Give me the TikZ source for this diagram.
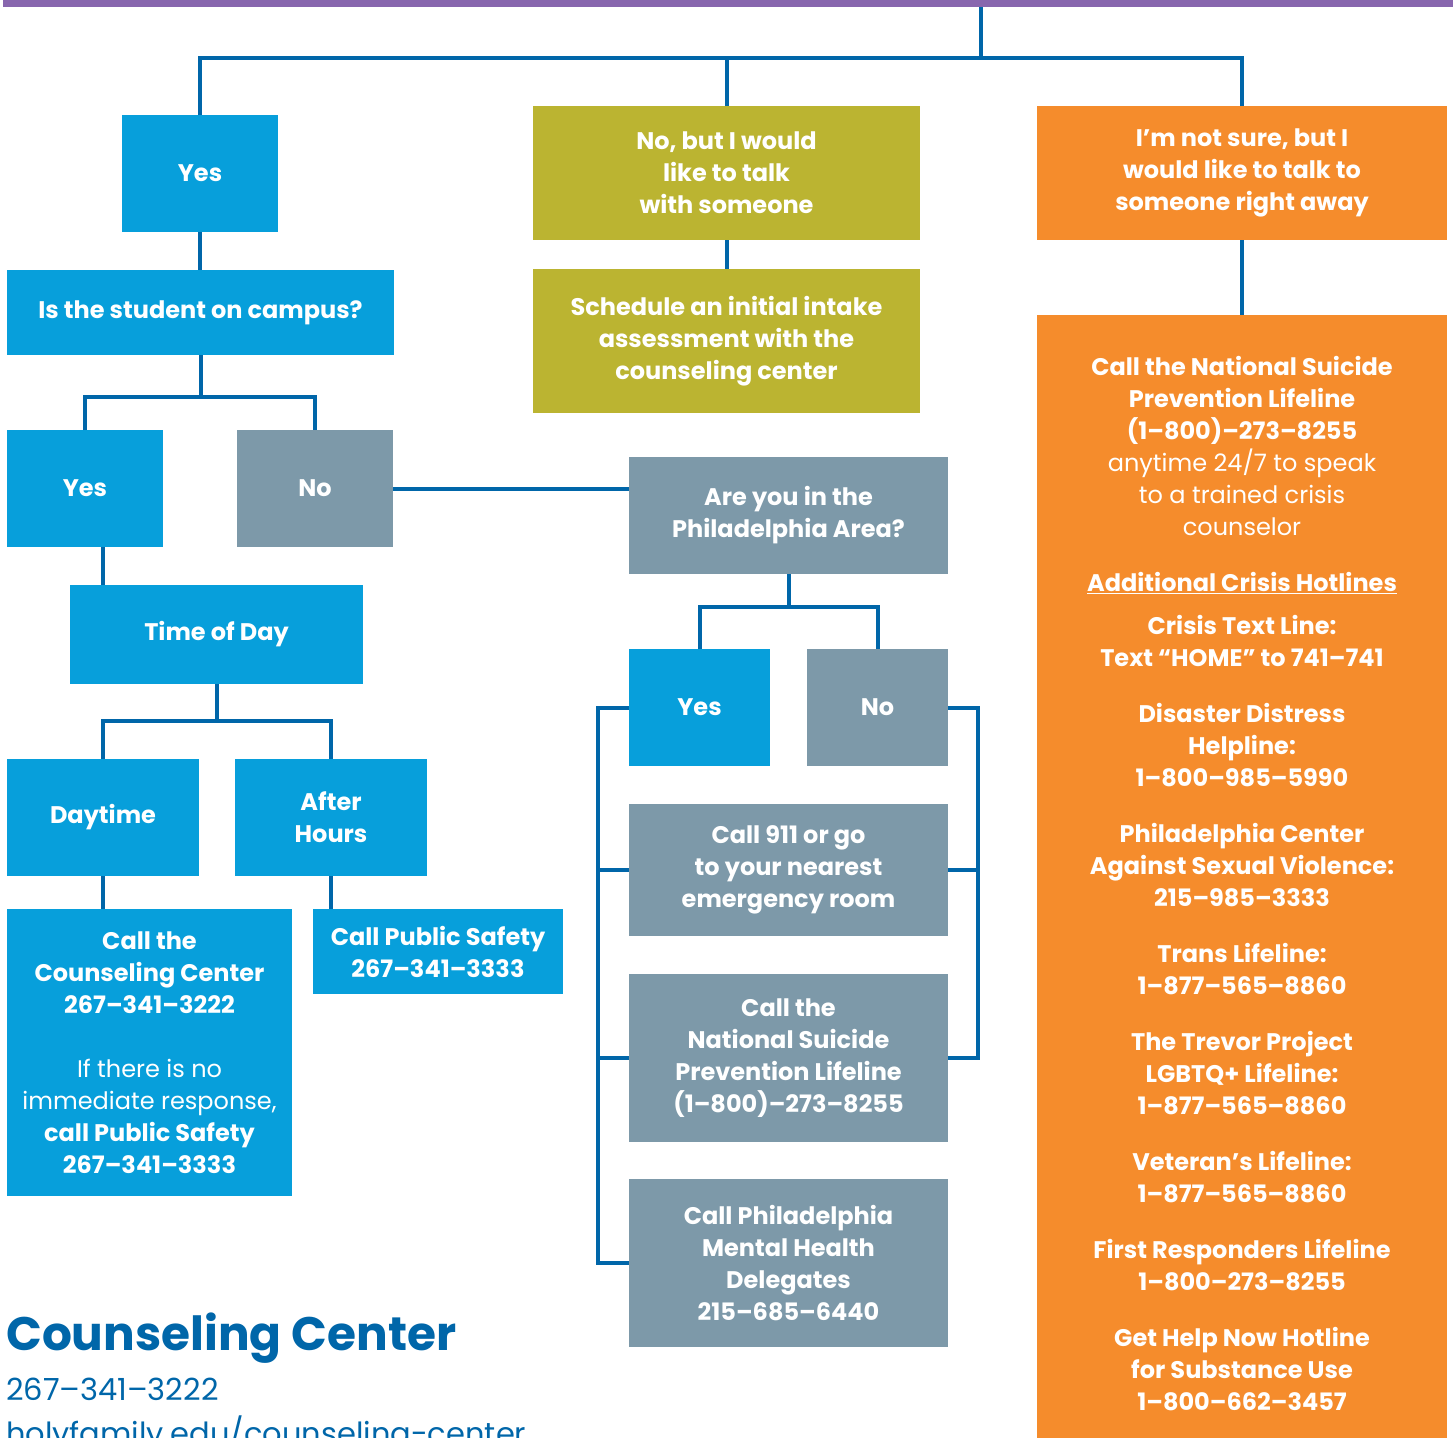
\documentclass[tikz,border=0pt]{standalone}
\usepackage{fontspec}
\setmainfont{Poppins}
\usetikzlibrary{positioning}

\definecolor{hfblue}{HTML}{079FDB}
\definecolor{hfolive}{HTML}{BBB431}
\definecolor{hforange}{HTML}{F58C2C}
\definecolor{hfgray}{HTML}{7D99A9}
\definecolor{hfpurple}{HTML}{8866AE}
\definecolor{linkblue}{HTML}{0066A9}

\tikzset{
    box/.style={fill=#1, text=white, font=\fontsize{24}{32}\selectfont\bfseries,
        align=center, inner sep=0pt, outer sep=0pt, anchor=north west},
    link/.style={draw=linkblue, line width=4pt},
    footer/.style={text=linkblue, anchor=base west, inner sep=0pt},
}

\begin{document}
\begin{tikzpicture}[x=1pt, y=-1pt]
    \useasboundingbox (0,0) rectangle (1453,1437);
    \node[fill=hfpurple, inner sep=0pt, minimum width=1450, minimum height=7, anchor=north west] (bar) at (3,0) {};

    % first row
    \node[box=hfblue, minimum width=156, minimum height=117] (yesA) at (122,115) {Yes};
    \node[box=hfolive, minimum width=387, minimum height=134] (nobut) at (533,106) {No, but I would\\like to talk\\with someone};
    \node[box=hforange, minimum width=410, minimum height=134] (notsure) at (1037,106) {I’m not sure, but I\\would like to talk to\\someone right away};

    % second row
    \node[box=hfblue, minimum width=387, minimum height=85] (campus) at (7,270) {Is the student on campus?};
    \node[box=hfolive, minimum width=387, minimum height=144] (intake) at (533,269) {Schedule an initial intake\\assessment with the\\counseling center};
    \node[box=hforange, minimum width=410, minimum height=1140] (lifeline) at (1037,315) {};

    % on campus?
    \node[box=hfblue, minimum width=156, minimum height=117] (yesB) at (7,430) {Yes};
    \node[box=hfgray, minimum width=156, minimum height=117] (noB) at (237,430) {No};
    \node[box=hfgray, minimum width=319, minimum height=117] (philly) at (629,457) {Are you in the\\Philadelphia Area?};
    \node[box=hfblue, minimum width=293, minimum height=99] (timeday) at (70,585) {Time of Day};
    \node[box=hfblue, minimum width=141, minimum height=117] (yesC) at (629,649) {Yes};
    \node[box=hfgray, minimum width=141, minimum height=117] (noC) at (807,649) {No};
    \node[box=hfblue, minimum width=192, minimum height=117] (daytime) at (7,759) {Daytime};
    \node[box=hfblue, minimum width=192, minimum height=117] (after) at (235,759) {After\\Hours};

    % what to do
    \node[box=hfgray, minimum width=319, minimum height=132] (call911) at (629,804) {Call 911 or go\\to your nearest\\emergency room};
    \node[box=hfblue, minimum width=285, minimum height=287] (callcc) at (7,909) {Call the\\Counseling Center\\267–341–3222\\[32pt]{\mdseries If there is no}\\{\mdseries immediate response,}\\call Public Safety\\267–341–3333};
    \node[box=hfblue, minimum width=250, minimum height=85] (callps) at (313,909) {Call Public Safety\\267–341–3333};
    \node[box=hfgray, minimum width=319, minimum height=168] (nspl) at (629,974) {Call the\\National Suicide\\Prevention Lifeline\\(1–800)–273–8255};
    \node[box=hfgray, minimum width=319, minimum height=168] (mhd) at (629,1179) {Call Philadelphia\\Mental Health\\Delegates\\215–685–6440};

    % hotlines in the orange column
    \node[text=white, font=\fontsize{24}{32}\selectfont\bfseries, align=center, inner sep=0pt] (hotlines) at (1242,884) {Call the National Suicide\\Prevention Lifeline\\(1–800)–273–8255\\{\mdseries anytime 24/7 to speak}\\{\mdseries to a trained crisis}\\{\mdseries counselor}\\[24pt]
        \underline{Additional Crisis Hotlines}\\[11pt]
        Crisis Text Line:\\Text “HOME” to 741–741\\[24pt]
        Disaster Distress\\Helpline:\\1–800–985–5990\\[24pt]
        Philadelphia Center\\Against Sexual Violence:\\215–985–3333\\[24pt]
        Trans Lifeline:\\1–877–565–8860\\[24pt]
        The Trevor Project\\LGBTQ+ Lifeline:\\1–877–565–8860\\[24pt]
        Veteran's Lifeline:\\1–877–565–8860\\[24pt]
        First Responders Lifeline\\1–800–273–8255\\[24pt]
        Get Help Now Hotline\\for Substance Use\\1–800–662–3457};

    % footer
    \node[footer, font=\fontsize{47}{47}\selectfont\bfseries] (cctitle) at (6,1350) {Counseling Center};
    \node[footer, font=\fontsize{30.5}{30.5}\selectfont] (ccphone) at (6,1400) {267–341–3222};
    \node[footer, font=\fontsize{30.5}{30.5}\selectfont] (ccweb) at (6,1444) {holyfamily.edu/counseling-center};

    % connectors
    \coordinate (hub) at (981,58);
    \draw[link] (bar.south -| hub) -- (hub);
    \draw[link] (yesA.north) |- (hub) -| (notsure.north);
    \draw[link] (nobut.north) -- (nobut.north |- hub);
    \draw[link] (nobut.south) -- (intake.north);
    \draw[link] (notsure.south) -- (lifeline.north);
    \draw[link] (yesA.south) -- (yesA.south |- campus.north);
    \draw[link] (campus.south) -- ++(0,42) coordinate (campusfork);
    \draw[link] (yesB.north) |- (campusfork) -| (noB.north);
    \draw[link] (noB.east) -- (noB.east -| philly.west);
    \draw[link] (yesB.south -| daytime) -- (timeday.north -| daytime);
    \draw[link] (timeday.south) -- ++(0,37) coordinate (timefork);
    \draw[link] (daytime.north) |- (timefork) -| (after.north);
    \draw[link] (daytime.south) -- (daytime.south |- callcc.north);
    \draw[link] (after.south) -- (after.south |- callps.north);
    \draw[link] (philly.south) -- ++(0,33) coordinate (phillyfork);
    \draw[link] (yesC.north) |- (phillyfork) -| (noC.north);
    \draw[link] (yesC.west) -- ++(-31,0) coordinate (leftrail) |- (mhd.west);
    \draw[link] (leftrail |- call911.west) -- (call911.west);
    \draw[link] (leftrail |- nspl.west) -- (nspl.west);
    \draw[link] (noC.east) -- ++(30,0) coordinate (rightrail) |- (nspl.east);
    \draw[link] (rightrail |- call911.east) -- (call911.east);
\end{tikzpicture}
\end{document}
